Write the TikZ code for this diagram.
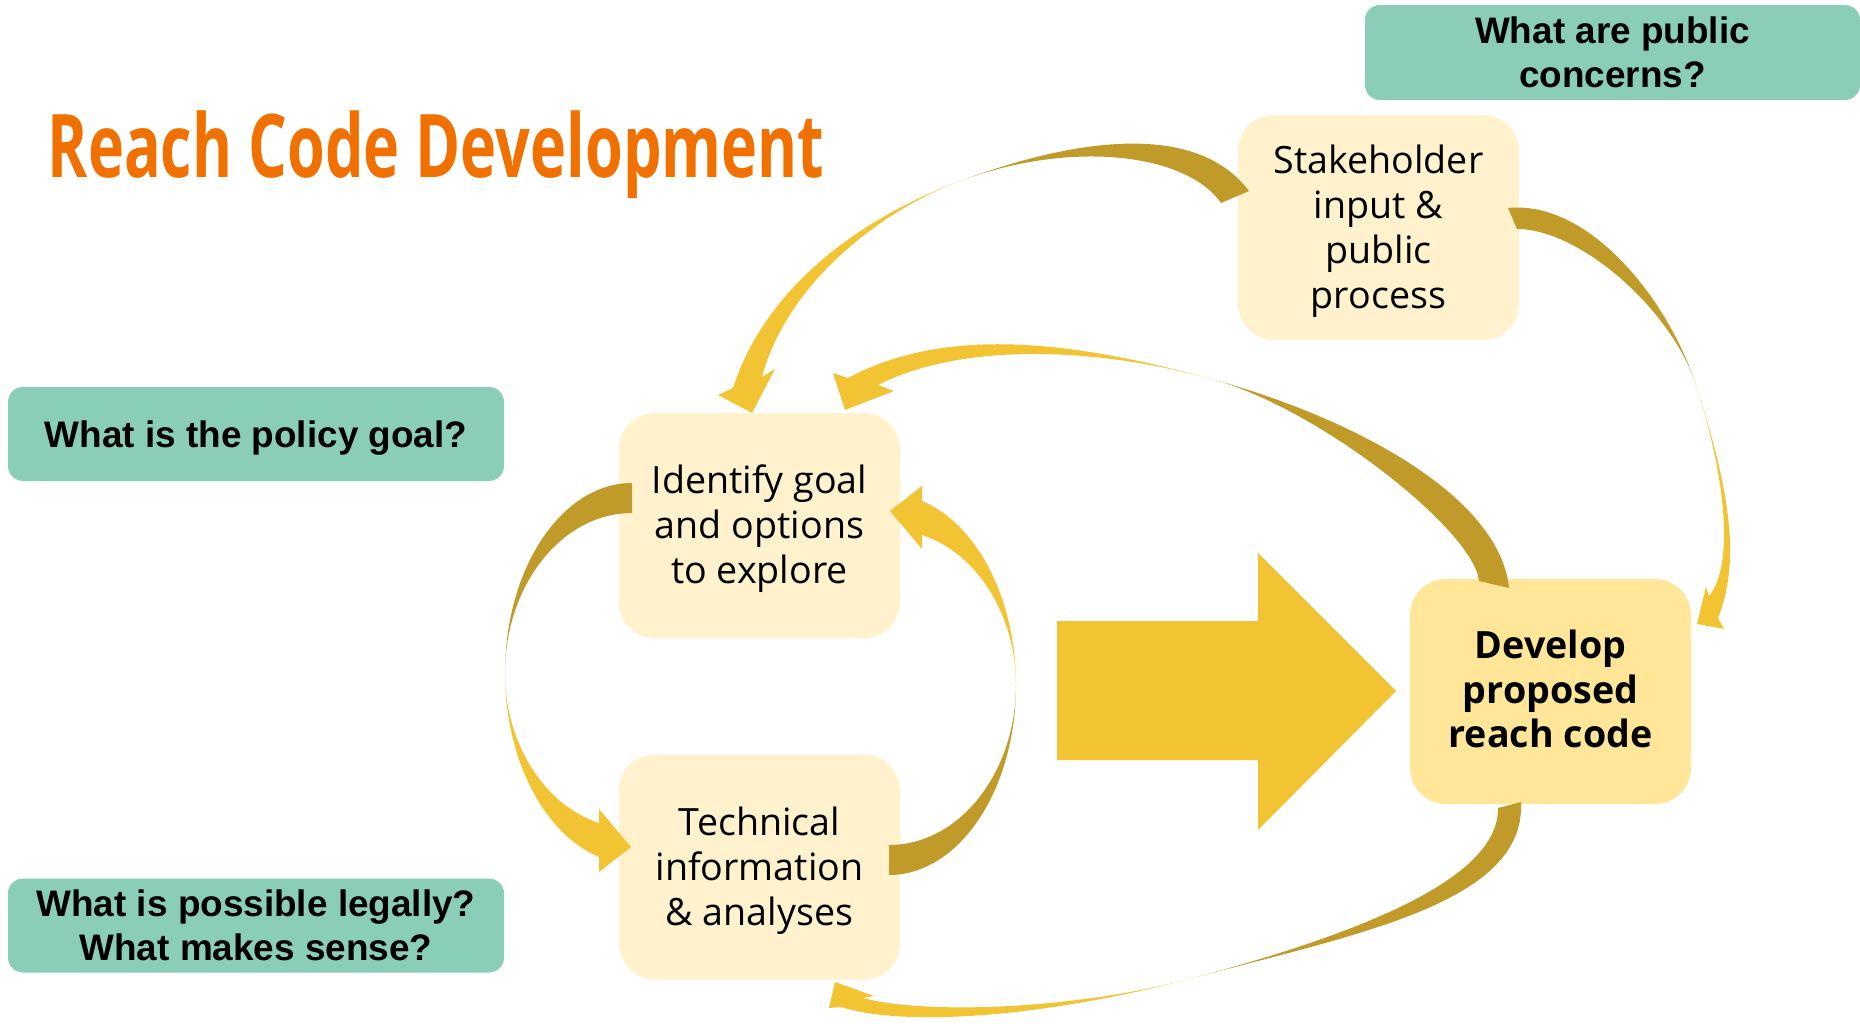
\documentclass[tikz,border=0pt]{standalone}
\usepackage{fontspec}
\setmainfont{Open Sans}
\newfontfamily\titlefont{Open Sans}[FakeStretch=0.695]
\newfontfamily\askfont{Liberation Sans}
\definecolor{titleorange}{RGB}{240,112,0}
\definecolor{askteal}{RGB}{138,206,185}
\definecolor{stepcream}{RGB}{255,242,204}
\definecolor{stepgold}{RGB}{255,230,153}
\definecolor{arrowgold}{RGB}{242,195,50}
\definecolor{arrowdark}{RGB}{193,155,42}
\tikzset{stepbox/.style={fill=stepcream, rounded corners=3.6mm, minimum width=28.1mm, minimum height=22.5mm, inner sep=0pt, align=center, font=\fontsize{10.7}{12.8}\selectfont},
askbox/.style={fill=askteal, rounded corners=1.5mm, minimum width=49.6mm, minimum height=9.4mm, inner sep=0pt, align=center, font=\askfont\bfseries\fontsize{10.5}{12.4}\selectfont},
backside/.style={fill=arrowdark},
frontside/.style={fill=arrowgold}}
% fixed line height for the box texts
\newcommand{\topstrut}[1][3.56mm]{\rule{0pt}{#1}}
\newcommand{\botstrut}{\rule[-0.9mm]{0pt}{0.9mm}}
% one side loop, the other is the same turned round
\newcommand{\loopribbon}{%
\fill[backside] (632,483) .. controls (562,483) and (505,568) .. (505,673) .. controls (505,585) and (562,513) .. (632,513) -- cycle;
\fill[frontside] (505,673) .. controls (505,759) and (544,834) .. (599,857) -- (599,872) -- (631,847) -- (599,809) -- (599,823) .. controls (544,805) and (505,743) .. (505,673) -- cycle;
}

\begin{document}
\begin{tikzpicture}[x=0.1mm,y=-0.1mm]
\useasboundingbox (0,0) rectangle (1860,1024);
% title
\node[anchor=base west, inner sep=0pt, text=titleorange, font=\titlefont\bfseries\fontsize{25}{30}\selectfont] (title) at (47,178) {Reach Code Development};

% questions
\node[askbox, minimum width=49.5mm, minimum height=9.5mm] (qpublic) at (1612.5,52.5) {What are public\\concerns?};
\node[askbox, text depth=0pt] (qgoal) at (256,434) {What is the policy goal?};
\node[askbox] (qlegal) at (256,925.5) {What is possible legally?\\What makes sense?};

% steps
\node[stepbox] (ident) at (759.5,525.5) {\topstrut Identify goal\\and options\\to explore\botstrut};
\node[stepbox] (tech) at (759.5,867) {\topstrut Technical\\information\\\& analyses\botstrut};
\node[stepbox] (stake) at (1378.5,227.5) {\topstrut Stakeholder\\input \&\\public\\process\botstrut};
\node[stepbox, fill=stepgold, font=\bfseries\fontsize{10.7}{12.8}\selectfont] (devel) at (1550.5,691.5) {\topstrut[3.2mm]Develop\\proposed\\reach code\botstrut};

% big arrow
\fill[frontside] (1057,621) -- (1258,621) -- (1258,553) -- (1396,691) -- (1258,830) -- (1258,760) -- (1057,760) -- cycle;

% ident <-> tech
\loopribbon
\begin{scope}[rotate around={180:(760.5,679)}]
\loopribbon
\end{scope}

% stake -> ident
\fill[backside] (1249,191) .. controls (1201,127) and (1092,132) .. (960,181) .. controls (1073,139) and (1187,154) .. (1221,203) -- cycle;
\fill[frontside] (960,181) .. controls (866,216) and (767,283) .. (733,388) -- (718,395) -- (752,413) -- (775,369) -- (762,377) .. controls (788,280) and (885,209) .. (960,181) -- cycle;

% devel -> ident
\fill[backside] (1509,588) .. controls (1500,498) and (1359,420) .. (1215,380) .. controls (1321,410) and (1474,531) .. (1479,581) -- cycle;
\fill[frontside] (1215,380) .. controls (1071,340) and (945,326) .. (848,378) -- (833,373) -- (845,410) -- (894,391) -- (878,385) .. controls (958,344) and (1090,345) .. (1215,380) -- cycle;

% stake -> devel
\fill[backside] (1508,208) .. controls (1588,200) and (1667,297) .. (1696,385) .. controls (1672,310) and (1580,229) .. (1517,229) -- cycle;
\fill[frontside] (1696,385) .. controls (1728,485) and (1742,558) .. (1718,618) -- (1724,629) -- (1697,624) -- (1706,587) -- (1709,596) .. controls (1735,565) and (1725,475) .. (1696,385) -- cycle;

% devel -> tech
\fill[backside] (1521,802) .. controls (1526,902) and (1361,933) .. (1197,977) .. controls (1356,934) and (1499,880) .. (1498,808) -- cycle;
\fill[frontside] (1197,977) .. controls (1052,1016) and (907,1028) .. (841,1007) -- (829,1008) -- (835,982) -- (874,996) -- (863,998) .. controls (921,1014) and (1072,1011) .. (1197,977) -- cycle;

\end{tikzpicture}
\end{document}
